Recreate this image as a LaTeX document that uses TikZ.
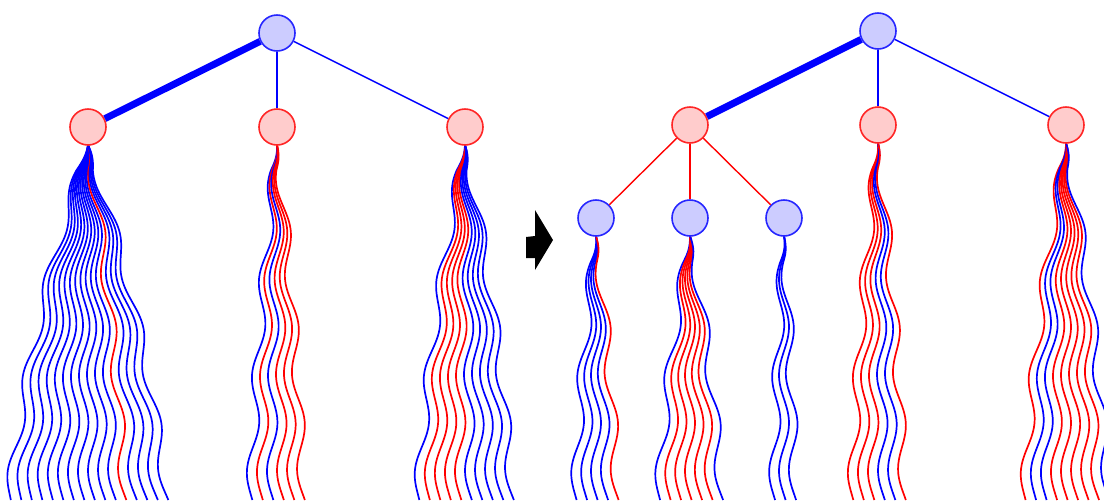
\documentclass[tikz,border=0pt]{standalone}
\usepackage{tikz}

\begin{document}
\begin{tikzpicture}[x=0.5pt,y=-0.5pt]
\tikzstyle{bvtx}=[circle, draw=blue!85, fill=blue!20, line width=0.8pt, minimum size=18pt, inner sep=0pt]
\tikzstyle{rvtx}=[circle, draw=red!85, fill=red!20, line width=0.8pt, minimum size=18pt, inner sep=0pt]
\tikzstyle{strand}=[line width=0.85pt]
\tikzstyle{thin}=[line width=0.7pt]
\useasboundingbox (0,0) rectangle (1104,500);
% the wavy strands below each leaf
\begin{scope}
\clip (0,0) rectangle (1104,500);
\foreach \xc/\yt/\n/\cols in {
	88/145/16/{blue,blue,blue,blue,blue,blue,blue,blue,blue,blue,blue,red,blue,blue,blue,blue},
	277/145/6/{blue,red,blue,red,red,red},
	465/145/10/{blue,red,red,red,red,blue,blue,blue,blue,blue},
	596/236/5/{blue,blue,blue,blue,red},
	690/236/7/{blue,red,red,red,red,red,blue},
	784/236/3/{blue,blue,blue},
	878/143/6/{red,red,red,blue,blue,red},
	1066/143/9/{red,blue,blue,red,red,red,red,red,blue}}{
	\foreach \c [count=\k] in \cols{
		\draw[strand, \c] plot[smooth, domain=\yt:500, samples=70, variable=\s]
			({\xc + (\k-(\n+1)/2)*10.5*((\s-\yt)/(500-\yt))*(1.5-0.5*(\s-\yt)/(500-\yt)) - 5*min(1,(\s-\yt)/25)*sin(3.75*(\s-159))}, {\s});}}
\end{scope}
% left tree
\node[bvtx] (lr) at (277,33){};
\node[rvtx] (la) at (88,127){};
\node[rvtx] (lb) at (277,127){};
\node[rvtx] (lc) at (465,127){};
\draw[blue, line width=3.5pt] (lr) -- (la);
\draw[blue, thin] (lr) -- (lb);
\draw[blue, thin] (lr) -- (lc);
% arrow
\fill (526,237) -- (535,236) -- (535,210) -- (553,240) -- (535,270) -- (535,258) -- (526,258) -- cycle;
% right tree
\node[bvtx] (rr) at (878,31){};
\node[rvtx] (ra) at (690,125){};
\node[rvtx] (rb) at (878,125){};
\node[rvtx] (rc) at (1066,125){};
\node[bvtx] (ga) at (596,218){};
\node[bvtx] (gb) at (690,218){};
\node[bvtx] (gc) at (784,218){};
\draw[blue, line width=3.5pt] (rr) -- (ra);
\draw[blue, thin] (rr) -- (rb);
\draw[blue, thin] (rr) -- (rc);
\foreach \g in {ga,gb,gc}{
	\draw[red, thin] (ra) -- (\g);}
\end{tikzpicture}
\end{document}
